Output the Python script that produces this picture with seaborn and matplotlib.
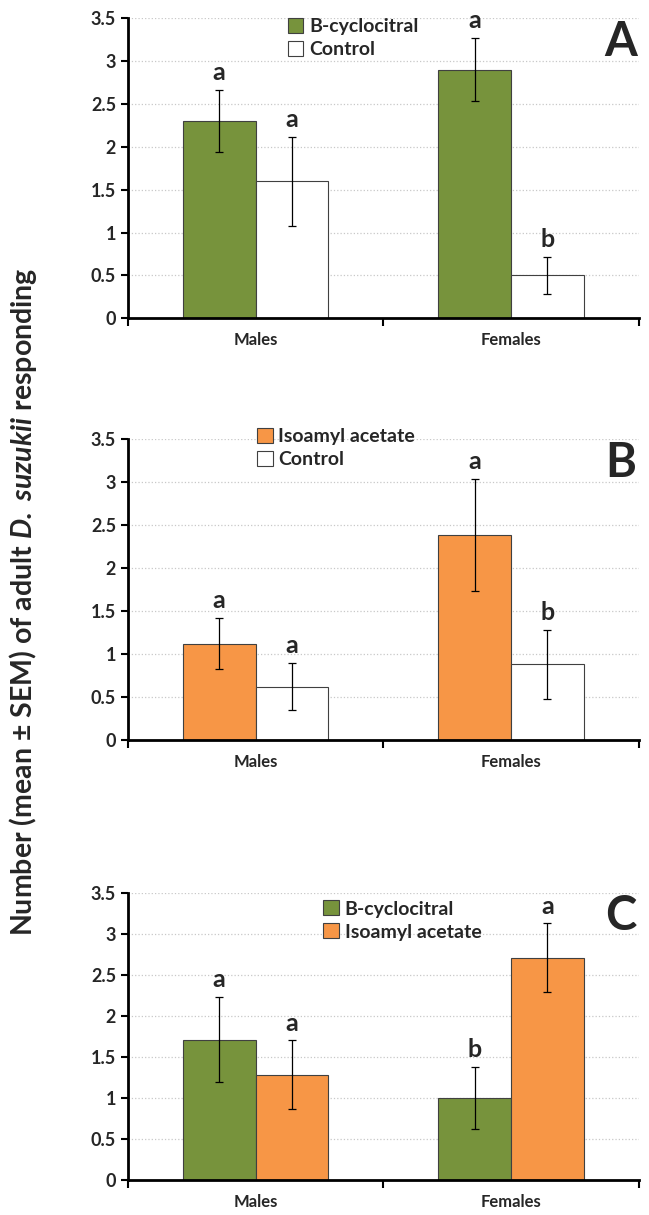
import pandas as pd
import matplotlib.pyplot as plt
import seaborn as sns

# data
sexes = ["Males", "Females"]

a_groups = ["B-cyclocitral", "Control"]
a_means = [[2.3, 1.6], [2.9, 0.5]]
a_sem = [[0.36, 0.52], [0.37, 0.22]]
a_letters = [["a", "a"], ["a", "b"]]

b_groups = ["Isoamyl acetate", "Control"]
b_means = [[1.12, 0.62], [2.38, 0.88]]
b_sem = [[0.30, 0.27], [0.65, 0.40]]
b_letters = [["a", "a"], ["a", "b"]]

c_groups = ["B-cyclocitral", "Isoamyl acetate"]
c_means = [[1.71, 1.28], [1.0, 2.71]]
c_sem = [[0.52, 0.42], [0.38, 0.42]]
c_letters = [["a", "a"], ["b", "a"]]

colors = {"B-cyclocitral": "#77933C", "Isoamyl acetate": "#F79646", "Control": "#FFFFFF"}

sns.set_theme(style="white")
plt.rcParams['font.family'] = ['Lato', 'DejaVu Sans']
plt.rcParams['mathtext.fontset'] = 'custom'
plt.rcParams['mathtext.bfit'] = 'Lato:italic:bold'
plt.rcParams['mathtext.it'] = 'Lato:italic'

fig = plt.figure(figsize=(6.49, 12.15), dpi=100)

panels = [
    ("A", a_groups, a_means, a_sem, a_letters, [0.197, 0.738, 0.787, 0.247], (0.29, 1.04)),
    ("B", b_groups, b_means, b_sem, b_letters, [0.197, 0.391, 0.787, 0.248], (0.23, 1.075)),
    ("C", c_groups, c_means, c_sem, c_letters, [0.197, 0.029, 0.787, 0.236], (0.36, 1.015)),
]

for tag, groups, means, sems, letters, rect, leg_pos in panels:
    ax = fig.add_axes(rect)
    rows = []
    for i, s in enumerate(sexes):
        for j, g in enumerate(groups):
            rows.append({"sex": s, "group": g, "mean": means[i][j], "sem": sems[i][j], "letter": letters[i][j]})
    df = pd.DataFrame(rows)

    sns.barplot(data=df, x="sex", y="mean", hue="group", hue_order=groups,
                palette=colors, saturation=1, width=0.57, errorbar=None,
                edgecolor="#404040", linewidth=0.8, ax=ax, zorder=2)

    # error bars and letters on each bar
    for j, g in enumerate(groups):
        cont = ax.containers[j]
        sub = df[df["group"] == g].set_index("sex").loc[sexes]
        xs = [p.get_x() + p.get_width() / 2 for p in cont.patches]
        ax.errorbar(xs, sub["mean"], yerr=sub["sem"], fmt="none", ecolor="black",
                    elinewidth=0.9, capsize=3, capthick=0.9, zorder=3)
        for x, m, e, l in zip(xs, sub["mean"], sub["sem"], sub["letter"]):
            ax.text(x, m + e + 0.07, l, ha="center", va="bottom", fontsize=18,
                    fontweight="bold")

    ax.set_ylim(0, 3.5)
    ax.set_xlim(-0.5, 1.5)
    ax.set_yticks([0, 0.5, 1, 1.5, 2, 2.5, 3, 3.5])
    ax.set_yticklabels(["0", "0.5", "1", "1.5", "2", "2.5", "3", "3.5"])
    ax.yaxis.grid(True, linestyle=":", color="#c8c8c8", linewidth=0.9, zorder=0)
    ax.set_axisbelow(True)
    for sp in ["top", "right"]:
        ax.spines[sp].set_visible(False)
    for sp in ["left", "bottom"]:
        ax.spines[sp].set_color("black")
        ax.spines[sp].set_linewidth(2)
    ax.tick_params(axis="y", length=5, width=1.5, color="black", labelsize=13, direction="out", left=True)
    ax.tick_params(axis="x", length=0, labelsize=12, pad=10)
    ax.set_xticks([-0.5, 0.5, 1.5], minor=True)
    ax.tick_params(axis="x", which="minor", length=6, width=1.5, color="black", bottom=True)
    for lab in ax.get_yticklabels() + ax.get_xticklabels():
        lab.set_fontweight("bold")
    ax.set_xlabel("")
    ax.set_ylabel("")

    leg = ax.legend(loc="upper left", bbox_to_anchor=leg_pos, frameon=False,
                    fontsize=14, handlelength=0.8, handleheight=0.8,
                    handletextpad=0.3, labelspacing=0.3, borderpad=0.1)
    for t in leg.get_texts():
        t.set_fontweight("bold")
    for h in leg.legend_handles:
        h.set_edgecolor("#404040")
        h.set_linewidth(0.8)

    ax.text(0.965, 0.92, tag, transform=ax.transAxes, fontsize=34, fontweight="bold",
            ha="center", va="center")

fig.text(0.036, 0.505, r"Number (mean ± SEM) of adult $\bfit{D.}$ $\bfit{suzukii}$ responding",
         rotation=90, ha="center", va="center", fontsize=20.5, fontweight="bold")

fig.savefig("out.png", dpi=100)
